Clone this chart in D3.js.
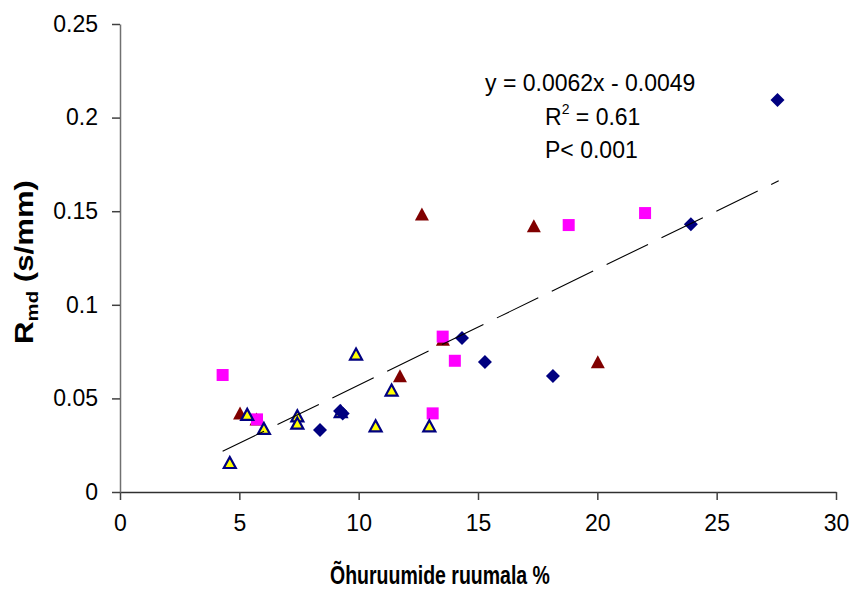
<!DOCTYPE html>
<html>
<head>
<meta charset="utf-8">
<script src="https://cdn.jsdelivr.net/npm/d3@7"></script>
<style>
  html, body { margin: 0; padding: 0; background: #fff; }
  svg text { font-family: "Liberation Sans", Arial, sans-serif; }
</style>
</head>
<body>
<svg id="chart" width="853" height="592"></svg>
<script>
// ---- data ----
const xTicks = [0, 5, 10, 15, 20, 25, 30];
const yTicks = [0, 0.05, 0.1, 0.15, 0.2, 0.25];
const yTickLabels = ["0", "0.05", "0.1", "0.15", "0.2", "0.25"];

const redX = [12.65, 17.34, 20.02, 11.73, 13.53, 5.03, 5.72];
const redY = [0.148, 0.1417, 0.069, 0.0616, 0.081, 0.0417, 0.0385];

const pinkX = [4.30, 5.74, 13.10, 13.52, 14.03, 18.80, 22.00];
const pinkY = [0.0625, 0.0388, 0.0420, 0.0830, 0.0701, 0.1426, 0.1490];

const yellowX = [4.60, 5.33, 6.03, 7.43, 7.43, 9.89, 10.71, 11.38, 12.96, 9.25];
const yellowY = [0.0153, 0.0410, 0.0335, 0.0402, 0.0363, 0.0732, 0.0349, 0.0540, 0.0349, 0.0425];

const blueX = [27.55, 23.92, 18.14, 15.29, 14.33, 9.22, 9.33, 8.38];
const blueY = [0.2094, 0.1430, 0.0620, 0.0694, 0.0823, 0.0433, 0.0420, 0.0331];

const slope = 0.0062, intercept = -0.0049;
const trendRange = [4.3, 27.6];
const annotations = ["y = 0.0062x - 0.0049", "R", "P< 0.001"];

// ---- layout ----
const svg = d3.select("#chart");
const x = d3.scaleLinear().domain([0, 30]).range([120, 836]);
const y = d3.scaleLinear().domain([0, 0.25]).range([492, 24]);

// axes
const xAxis = d3.axisBottom(x).tickValues(xTicks).tickSize(8).tickSizeOuter(0).tickPadding(15);
const gx = svg.append("g").attr("transform", "translate(0,492)").call(xAxis);
const yAxis = d3.axisLeft(y).tickValues(yTicks).tickSize(8).tickSizeOuter(0).tickPadding(14)
  .tickFormat((d, i) => yTickLabels[i]);
const gy = svg.append("g").attr("transform", "translate(120,0)").call(yAxis);

gx.select(".domain").attr("stroke", "#303030").attr("stroke-width", 1.5);
gy.select(".domain").attr("stroke", "#707070").attr("stroke-width", 1.5);
[gx, gy].forEach(g => {
  g.selectAll(".tick line").attr("stroke", "#404040").attr("stroke-width", 1.5);
  g.selectAll(".tick text").attr("fill", "#000").style("font-size", "23px")
    .style("font-family", "'Liberation Sans', Arial, sans-serif");
});

// markers
const pts = (xs, ys) => xs.map((v, i) => ({ x: v, y: ys[i] }));

function triPath(cx, cy, w, h) {
  return `M${cx},${cy - h * 0.58} L${cx + w / 2},${cy + h * 0.42} L${cx - w / 2},${cy + h * 0.42} Z`;
}

svg.append("g").selectAll("path").data(pts(redX, redY)).join("path")
  .attr("d", d => triPath(x(d.x), y(d.y), 14, 13))
  .attr("fill", "#800000");

svg.append("g").selectAll("rect").data(pts(pinkX, pinkY)).join("rect")
  .attr("x", d => x(d.x) - 6).attr("y", d => y(d.y) - 6)
  .attr("width", 12).attr("height", 12)
  .attr("fill", "#ff00ff");

svg.append("g").selectAll("path").data(pts(yellowX, yellowY)).join("path")
  .attr("d", d => triPath(x(d.x), y(d.y), 12, 11))
  .attr("fill", "#ffff00").attr("stroke", "#000080").attr("stroke-width", 2.2)
  .attr("stroke-linejoin", "miter");

svg.append("g").selectAll("path").data(pts(blueX, blueY)).join("path")
  .attr("d", d => { const cx = x(d.x), cy = y(d.y), r = 7; return `M${cx},${cy - r} L${cx + r},${cy} L${cx},${cy + r} L${cx - r},${cy} Z`; })
  .attr("fill", "#000080");

// trend line
svg.append("line")
  .attr("x1", x(trendRange[0])).attr("y1", y(slope * trendRange[0] + intercept))
  .attr("x2", x(trendRange[1])).attr("y2", y(slope * trendRange[1] + intercept))
  .attr("stroke", "#000").attr("stroke-width", 1.1)
  .attr("stroke-dasharray", "46,15");

// annotations
const ann = svg.append("g").style("font-size", "23px").attr("fill", "#000");
ann.append("text").attr("x", 485).attr("y", 91).text(annotations[0]);
const r2 = ann.append("text").attr("x", 545).attr("y", 125);
r2.append("tspan").text("R");
r2.append("tspan").attr("dy", -11).style("font-size", "14px").text("2");
r2.append("tspan").attr("dy", 11).text(" = 0.61");
ann.append("text").attr("x", 545).attr("y", 158).text(annotations[2]);

// axis titles
svg.append("g").attr("transform", "translate(440,584) scale(1,1.3)")
  .append("text").attr("text-anchor", "middle")
  .style("font-size", "19.5px").style("font-weight", "bold").text("Õhuruumide ruumala %");

const yt = svg.append("g").attr("transform", "translate(32.5,262) rotate(-90) scale(1.2,1)")
  .append("text").attr("text-anchor", "middle").style("font-size", "26px").style("font-weight", "bold");
yt.append("tspan").text("R");
yt.append("tspan").attr("dy", 5).style("font-size", "17px").text("md");
yt.append("tspan").attr("dy", -5).text(" (s/mm)");
</script>
</body>
</html>
